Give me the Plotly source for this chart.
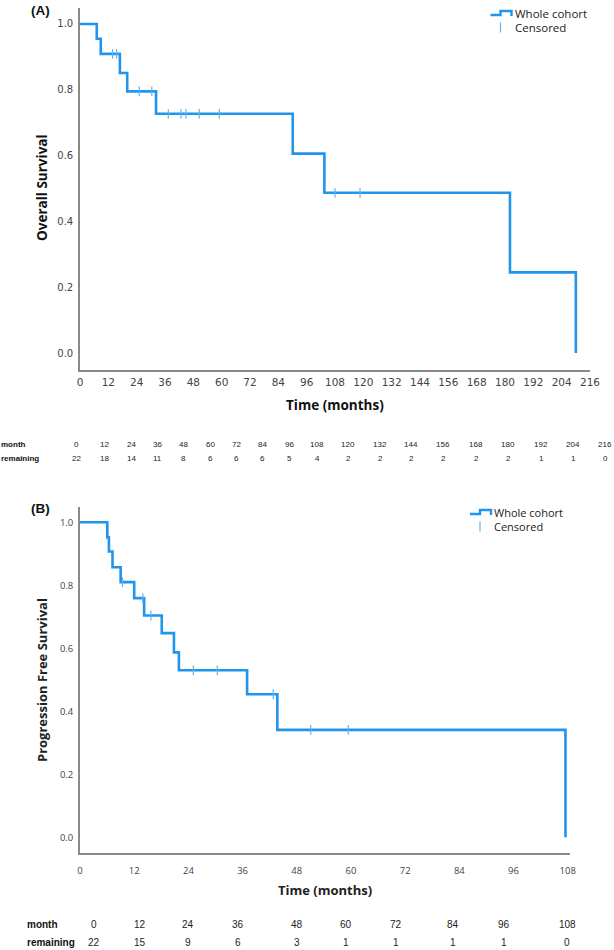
import numpy as np
import plotly.graph_objects as go

# ---------------- data: Panel A (Overall Survival) ----------------
os_event_months = [7.1, 8.8, 16.9, 20.0, 32.2, 90.1, 103.5, 182.1, 210.0]
os_surv = [0.955, 0.909, 0.851, 0.795, 0.727, 0.606, 0.487, 0.245, 0.0]
os_censor_months = [13.8, 15.5, 25.1, 30.4, 37.4, 42.8, 44.9, 50.5, 59.0, 108.0, 118.6]
os_table_month = [0, 12, 24, 36, 48, 60, 72, 84, 96, 108, 120, 132, 144, 156, 168, 180, 192, 204, 216]
os_table_remaining = [22, 18, 14, 11, 8, 6, 6, 6, 5, 4, 2, 2, 2, 2, 2, 2, 1, 1, 0]
os_xticks = list(range(0, 217, 12))

# ---------------- data: Panel B (Progression Free Survival) ----------------
pfs_event_months = [6.05, 6.4, 7.2, 9.0, 12.0, 14.2, 18.1, 20.8, 21.9, 37.0, 43.7, 107.5]
pfs_surv = [0.952, 0.907, 0.857, 0.810, 0.759, 0.704, 0.648, 0.587, 0.530, 0.454, 0.341, 0.0]
pfs_censor_months = [9.4, 13.9, 15.7, 25.1, 30.4, 42.8, 51.1, 59.4]
pfs_table_month = [0, 12, 24, 36, 48, 60, 72, 84, 96, 108]
pfs_table_remaining = [22, 15, 9, 6, 3, 1, 1, 1, 1, 0]
pfs_xticks = list(range(0, 109, 12))

yticks = [0.0, 0.2, 0.4, 0.6, 0.8, 1.0]

W, H = 614, 950
BLUE = "#1f95ee"
CBLUE = "#62b3f5"
AXIS = "#8a8a8a"
TICK = "#444444"


def px(x):
    return x / W


def py(y):
    return 1 - y / H


def step_value(times, surv, t):
    idx = np.searchsorted(np.array(times), t, side="right")
    vals = [1.0] + list(surv)
    return vals[idx]


fig = go.Figure()

censor_marker = dict(symbol="line-ns-open", size=7, color=CBLUE, line=dict(color=CBLUE, width=1.2))

# Panel A curve
fig.add_trace(go.Scatter(x=[0] + os_event_months, y=[1.0] + os_surv, mode="lines",
                         line=dict(color=BLUE, width=2.6, shape="hv"),
                         xaxis="x", yaxis="y", showlegend=False, hoverinfo="skip"))
fig.add_trace(go.Scatter(x=os_censor_months,
                         y=[step_value(os_event_months, os_surv, t) for t in os_censor_months],
                         mode="markers", marker=censor_marker,
                         xaxis="x", yaxis="y", showlegend=False, hoverinfo="skip"))

# Panel B curve
fig.add_trace(go.Scatter(x=[0] + pfs_event_months, y=[1.0] + pfs_surv, mode="lines",
                         line=dict(color=BLUE, width=2.6, shape="hv"),
                         xaxis="x2", yaxis="y2", showlegend=False, hoverinfo="skip"))
fig.add_trace(go.Scatter(x=pfs_censor_months,
                         y=[step_value(pfs_event_months, pfs_surv, t) for t in pfs_censor_months],
                         mode="markers", marker=censor_marker,
                         xaxis="x2", yaxis="y2", showlegend=False, hoverinfo="skip"))

axis_common = dict(showgrid=False, zeroline=False, showline=True, linecolor=AXIS, linewidth=1.6,
                   ticks="outside", tickcolor="rgba(0,0,0,0)", fixedrange=True, automargin=False)

fig.update_layout(
    width=W, height=H, autosize=False, margin=dict(l=0, r=0, t=0, b=0, pad=0),
    paper_bgcolor="white", plot_bgcolor="white",
    xaxis=dict(domain=[px(80), px(590)], range=[0, 216], tickvals=os_xticks, ticklen=2,
               tickfont=dict(family="DejaVu Sans", size=10.5, color=TICK), anchor="y", **axis_common),
    yaxis=dict(domain=[py(369.5), py(7.5)], range=[-0.05, 1.05], tickvals=yticks, tickformat=".1f",
               ticklen=3, tickfont=dict(family="DejaVu Sans", size=10, color=TICK), anchor="x", **axis_common),
    xaxis2=dict(domain=[px(80), px(570)], range=[0, 108.5], tickvals=pfs_xticks, ticklen=8,
                tickfont=dict(family="Open Sans", size=9.5, color=TICK), anchor="y2", **axis_common),
    yaxis2=dict(domain=[py(853), py(506.5)], range=[-0.05, 1.05], tickvals=yticks, tickformat=".1f",
                ticklen=3, tickfont=dict(family="Open Sans", size=9.5, color=TICK), anchor="x2", **axis_common),
)

ann = []
shapes = []

def text(x, y, s, size, family="Open Sans", bold=False, color="#222222", xanchor="center", angle=0):
    ann.append(dict(x=px(x), y=py(y), xref="paper", yref="paper", text=s, showarrow=False,
                    xanchor=xanchor, yanchor="middle", textangle=angle, borderpad=0,
                    font=dict(family=family, size=size, color=color, weight="bold" if bold else "normal")))

# Panel labels
text(30, 10, "(A)", 13.5, family="Liberation Sans", bold=True, color="#111111", xanchor="left")
text(30, 508, "(B)", 13.5, family="Liberation Sans", bold=True, color="#111111", xanchor="left")

# Axis titles
text(42, 188, "Overall Survival", 13.5, bold=True, color="#111111", angle=-90)
text(335, 405, "Time (months)", 13.5, bold=True, color="#111111")
text(42, 680, "Progression Free Survival", 13, bold=True, color="#222222", angle=-90)
text(325, 890, "Time (months)", 13, bold=True, color="#222222")

# Legends
def legend(x0, yline, xtext, ytext1, ytext2, size):
    shapes.append(dict(type="path", xref="paper", yref="paper",
                       path=f"M {px(x0)} {py(yline + 1)} L {px(x0 + 10)} {py(yline + 1)} L {px(x0 + 10)} {py(yline - 3)} "
                            f"L {px(x0 + 21)} {py(yline - 3)} L {px(x0 + 21)} {py(yline + 2)}",
                       line=dict(color=BLUE, width=2.4)))
    shapes.append(dict(type="line", xref="paper", yref="paper", x0=px(x0 + 10), x1=px(x0 + 10),
                       y0=py(ytext2 - 5), y1=py(ytext2 + 5), line=dict(color=CBLUE, width=1.2)))
    text(xtext, ytext1, "Whole cohort", size, xanchor="left")
    text(xtext, ytext2, "Censored", size, xanchor="left")

legend(490.5, 14, 514, 13.5, 27.5, 11.5)
legend(470, 513, 492.5, 512.5, 526.5, 11)

# Number-at-risk tables
os_month_px = [76, 104, 131, 157, 183, 210, 236, 262, 289, 317, 348, 380, 411, 443, 476, 508, 541, 573, 605]
text(0, 444, "month", 8, family="Liberation Sans", bold=True, color="#111111", xanchor="left")
text(0, 458, "remaining", 8, family="Liberation Sans", bold=True, color="#111111", xanchor="left")
for xp, m, r in zip(os_month_px, os_table_month, os_table_remaining):
    text(xp, 444, str(m), 8, family="Liberation Sans", color="#222222")
    text(xp, 458, str(r), 8, family="Liberation Sans", color="#222222")

pfs_month_px = [94, 140, 188, 238, 297, 346, 396, 453, 504, 567]
text(26, 924, "month", 10, family="Liberation Sans", bold=True, color="#111111", xanchor="left")
text(26, 942, "remaining", 10, family="Liberation Sans", bold=True, color="#111111", xanchor="left")
for xp, m, r in zip(pfs_month_px, pfs_table_month, pfs_table_remaining):
    text(xp, 924, str(m), 10, family="Liberation Sans", color="#222222")
    text(xp, 942, str(r), 10, family="Liberation Sans", color="#222222")

fig.update_layout(annotations=ann, shapes=shapes)
fig.write_html("out.html", config={"displayModeBar": False, "responsive": False},
               post_script="document.body.style.margin='0';document.body.style.overflow='hidden';")
